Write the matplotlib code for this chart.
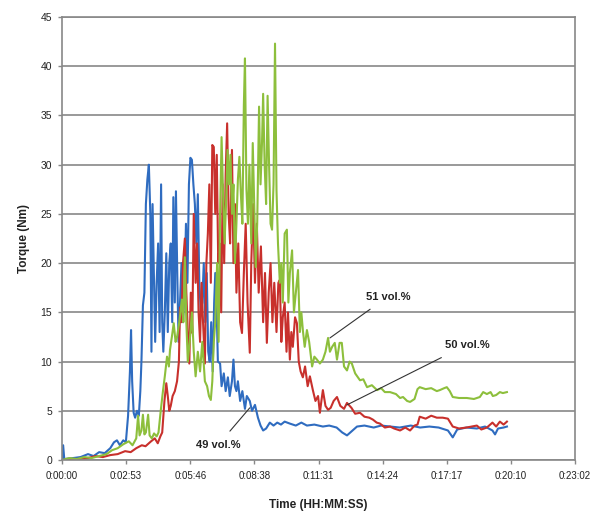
import numpy as np
import matplotlib
matplotlib.use("Agg")
import matplotlib.pyplot as plt

# torque traces, time in seconds, torque in Nm
t_49 = [0, 3, 6, 30, 50, 70, 85, 100, 115, 130, 140, 148, 156, 165, 172, 178, 183, 186, 189, 193,
        197, 202, 207, 211, 214, 218, 222, 226, 230, 234, 238, 241, 244, 247, 251, 255, 259, 263, 267, 270,
        273, 277, 281, 285, 289, 293, 297, 300, 304, 307, 311, 314, 318, 322, 326, 330, 334, 338, 342, 346,
        350, 354, 358, 362, 366, 370, 374, 378, 382, 386, 390, 394, 398, 402, 406, 410, 413, 417, 420, 426,
        430, 436, 441, 447, 452, 458, 462, 466, 470, 474, 480, 486, 493, 498, 506, 512, 520, 528, 535, 542,
        550, 560, 570, 580, 590, 600, 614, 630, 645, 660, 680, 703, 720, 740, 755, 768, 780, 795, 815, 840,
        860, 884, 910, 940, 965, 990, 1015, 1040, 1053, 1065, 1090, 1118, 1140, 1160, 1167, 1175, 1190, 1199]
v_49 = [0.1, 1.5, 0.1, 0.2, 0.3, 0.6, 0.4, 0.8, 0.7, 1.2, 1.8, 2.0, 1.5, 2.0, 1.8, 4.5, 9, 13.2, 8, 4.8,
        4.3, 5, 4.5, 7, 10, 15.7, 17, 26, 28.5, 30, 25, 11, 26, 20, 12, 18, 22, 13, 28, 14,
        11, 15, 21, 13, 20, 22, 14, 26.7, 16, 27.3, 18, 12, 16, 20, 14, 17, 24, 18, 28, 30.7,
        30.5, 28, 26, 22, 27, 18, 15, 16, 20, 14, 19, 11, 10, 14, 9, 16, 19, 15, 10, 9.8,
        7.5, 8.8, 7, 8.4, 6.5, 8, 10.2, 7.5, 7, 8, 6, 7, 5.2, 6.5, 6, 5, 5.6, 4.3, 3.5, 3.0,
        3.2, 3.8, 3.5, 3.8, 3.6, 3.9, 3.7, 3.5, 3.8, 3.5, 3.6, 3.4, 3.5, 3.3, 2.8, 2.5, 2.9, 3.4, 3.5, 3.3,
        3.5, 3.4, 3.3, 3.5, 3.3, 3.4, 3.3, 3.0, 2.3, 3.1, 3.3, 3.2, 3.4, 3.0, 2.6, 3.2, 3.3, 3.4]

t_50 = [0, 40, 70, 90, 110, 130, 150, 170, 185, 200, 215, 225, 240, 250, 258, 265, 270, 276, 281, 285,
        289, 293, 298, 304, 310, 315, 318, 322, 326, 331, 335, 339, 343, 347, 351, 355, 360, 364, 368, 372,
        376, 380, 385, 389, 393, 397, 401, 405, 409, 413, 417, 421, 425, 429, 433, 437, 441, 445, 449, 453,
        458, 462, 466, 470, 475, 480, 485, 490, 495, 500, 506, 510, 515, 520, 525, 530, 536, 542, 547, 552,
        557, 562, 567, 572, 578, 583, 587, 591, 595, 600, 605, 609, 614, 618, 622, 628, 633, 638, 643, 649,
        655, 662, 668, 676, 683, 690, 695, 699, 703, 710, 717, 724, 732, 741, 750, 760, 768, 780, 790, 803,
        815, 828, 838, 848, 857, 870, 884, 895, 911, 925, 938, 950, 958, 964, 980, 995, 1010, 1026, 1040, 1048,
        1053, 1070, 1090, 1118, 1130, 1145, 1160, 1170, 1180, 1190, 1199]
v_50 = [0, 0.1, 0.2, 0.4, 0.3, 0.5, 0.6, 0.9, 0.8, 1.2, 1.5, 1.4, 1.9, 2.2, 1.7, 2.4, 2.8, 6, 7.8, 6.5,
        5, 5.5, 6.5, 7, 8, 10, 15.5, 14, 20, 22.5, 17, 13, 9.8, 17, 12.9, 25, 18, 22, 15, 12,
        18, 14, 9.8, 20, 23, 28, 18, 32, 31.8, 25, 31, 20, 22, 15, 28, 20, 29, 34.2, 25, 22,
        31.5, 20, 26, 17, 22, 14, 12.9, 19, 24, 16, 10.9, 20, 26, 18, 24, 17, 21.7, 14, 19, 11.9,
        17, 20, 14, 18, 13, 18, 18.3, 12, 14.5, 16, 11, 15, 10.2, 13, 11.5, 14.5, 13.9, 10, 9, 8.4,
        9.5, 7.5, 8.5, 7.1, 6, 6.5, 4.8, 6, 7.1, 5.5, 5.1, 5.3, 6, 6.4, 5.5, 5.2, 5.8, 5.3, 4.7, 4.8,
        4.4, 4.3, 4.1, 3.8, 3.7, 3.3, 3.4, 3.2, 3.0, 3.3, 3.0, 3.5, 3.6, 4.4, 4.2, 4.5, 4.3, 4.3, 4.2, 3.7,
        3.4, 3.2, 3.3, 3.5, 3.1, 3.3, 3.8, 3.4, 3.9, 3.6, 3.9]

t_51 = [0, 20, 40, 60, 80, 100, 120, 135, 150, 165, 180, 190, 200, 205, 209, 214, 218, 222, 226, 232,
        236, 242, 248, 255, 260, 266, 272, 277, 283, 288, 291, 296, 301, 306, 310, 316, 323, 327, 331, 335,
        339, 344, 350, 355, 360, 366, 372, 378, 385, 391, 396, 401, 405, 409, 413, 418, 422, 426, 430, 434,
        438, 442, 446, 450, 454, 458, 462, 466, 470, 474, 478, 482, 486, 490, 493, 497, 501, 505, 510, 514,
        518, 522, 526, 531, 535, 539, 542, 546, 550, 554, 558, 562, 566, 570, 574, 578, 582, 587, 591, 595,
        600, 606, 610, 614, 620, 625, 630, 636, 641, 645, 649, 654, 660, 666, 674, 680, 687, 695, 703, 710,
        717, 722, 728, 735, 741, 748, 754, 760, 768, 775, 781, 790, 803, 812, 822, 835, 849, 860, 870, 884,
        900, 911, 919, 930, 938, 950, 958, 964, 980, 995, 1010, 1018, 1030, 1037, 1045, 1053, 1070, 1091, 1110, 1126,
        1135, 1145, 1155, 1161, 1170, 1180, 1188, 1199]
v_51 = [0, 0.2, 0.1, 0.3, 0.2, 0.4, 0.6, 1.0, 1.2, 1.6, 1.9, 1.5, 2.2, 4.5, 2.5, 3, 4.6, 2.6, 2.8, 4.6,
        2.5, 2.2, 2.7, 2.4, 2.8, 5, 7, 8.5, 10.5, 9.5, 11.2, 12.5, 13.9, 12, 12.5, 14, 16.3, 14, 20.6, 14,
        10, 12, 15, 11, 8.5, 11, 9, 12, 8, 7.5, 6.5, 6.1, 8, 12, 14, 20, 12, 25, 32.8, 27,
        22, 26, 31.5, 28, 31, 25, 28, 20, 24, 28.5, 30.8, 27, 24, 36, 40.8, 27.5, 24, 30, 22, 32.2,
        26, 19.6, 24, 35.9, 28, 32.3, 37.2, 30, 26, 37, 30, 24, 23.4, 28, 42.3, 27.4, 22, 18, 20, 16,
        23, 23.4, 16, 19, 21.3, 15, 17, 19.3, 13, 15, 13.2, 11.5, 13.2, 12, 9.5, 10.5, 10.2, 9.8, 10.2, 11,
        12.4, 11, 11.5, 11.9, 10.2, 11.9, 11.9, 9.5, 9.1, 10, 9.8, 8.8, 8.1, 8.2, 7.4, 7.6, 7.1, 7.3, 6.9, 6.9,
        6.7, 6.3, 6.4, 6.0, 5.9, 6.2, 7.2, 7.4, 7.2, 7.3, 7.0, 7.1, 7.3, 7.4, 7.0, 6.4, 6.3, 6.3, 6.2, 6.4,
        6.9, 6.7, 6.9, 6.5, 6.6, 6.9, 6.8, 6.9]

x_ticklabels = ["0:00:00", "0:02:53", "0:05:46", "0:08:38", "0:11:31",
                "0:14:24", "0:17:17", "0:20:10", "0:23:02"]
y_ticks = [0, 5, 10, 15, 20, 25, 30, 35, 40, 45]

plt.rcParams['font.family'] = ['Liberation Sans', 'DejaVu Sans']

fig = plt.figure(figsize=(5.93, 5.16), dpi=100)
ax = fig.add_axes([0.1046, 0.1085, 0.865, 0.8585])

ax.plot(t_49, v_49, color='#2f6cc0', lw=1.5)
ax.plot(t_50, v_50, color='#c8302c', lw=1.5)
ax.plot(t_51, v_51, color='#8dbf3c', lw=1.5)

step = 172.8  # 0.002 day
x_ticks = [i * step for i in range(len(x_ticklabels))]
ax.set_xlim(0, x_ticks[-1])
ax.set_ylim(0, 45)
ax.set_xticks(x_ticks)
ax.set_xticklabels(x_ticklabels, fontsize=7, color='#222222')
ax.set_yticks(y_ticks)
ax.set_yticklabels([str(v) for v in y_ticks], fontsize=7.5, color='#222222')
ax.tick_params(axis='x', length=3, width=1, color='#888888', pad=5)
ax.tick_params(axis='y', length=3, width=1, color='#888888', pad=4)

ax.grid(axis='y', color='#888888', lw=1.2)
ax.set_axisbelow(True)
for s in ax.spines.values():
    s.set_color('#888888')
    s.set_linewidth(1.2)

ax.set_xlabel('Time (HH:MM:SS)', fontsize=8.5, fontweight='bold', color='#222222', labelpad=13)
ax.set_ylabel('Torque (Nm)', fontsize=8.5, fontweight='bold', color='#222222', labelpad=8)

# series labels with leader lines
ax.annotate('51 vol.%', xy=(722, 12.4), xytext=(878, 16.6), fontsize=8, fontweight='bold',
            color='#222222', ha='center', va='center',
            arrowprops=dict(arrowstyle='-', color='#333333', lw=0.8, shrinkA=6, shrinkB=0))
ax.annotate('50 vol.%', xy=(768, 5.6), xytext=(1091, 11.7), fontsize=8, fontweight='bold',
            color='#222222', ha='center', va='center',
            arrowprops=dict(arrowstyle='-', color='#333333', lw=0.8, shrinkA=8, shrinkB=0))
ax.annotate('49 vol.%', xy=(506, 5.3), xytext=(420, 1.5), fontsize=8, fontweight='bold',
            color='#222222', ha='center', va='center',
            arrowprops=dict(arrowstyle='-', color='#333333', lw=0.8, shrinkA=6, shrinkB=0))

fig.savefig('out.png', dpi=100)
